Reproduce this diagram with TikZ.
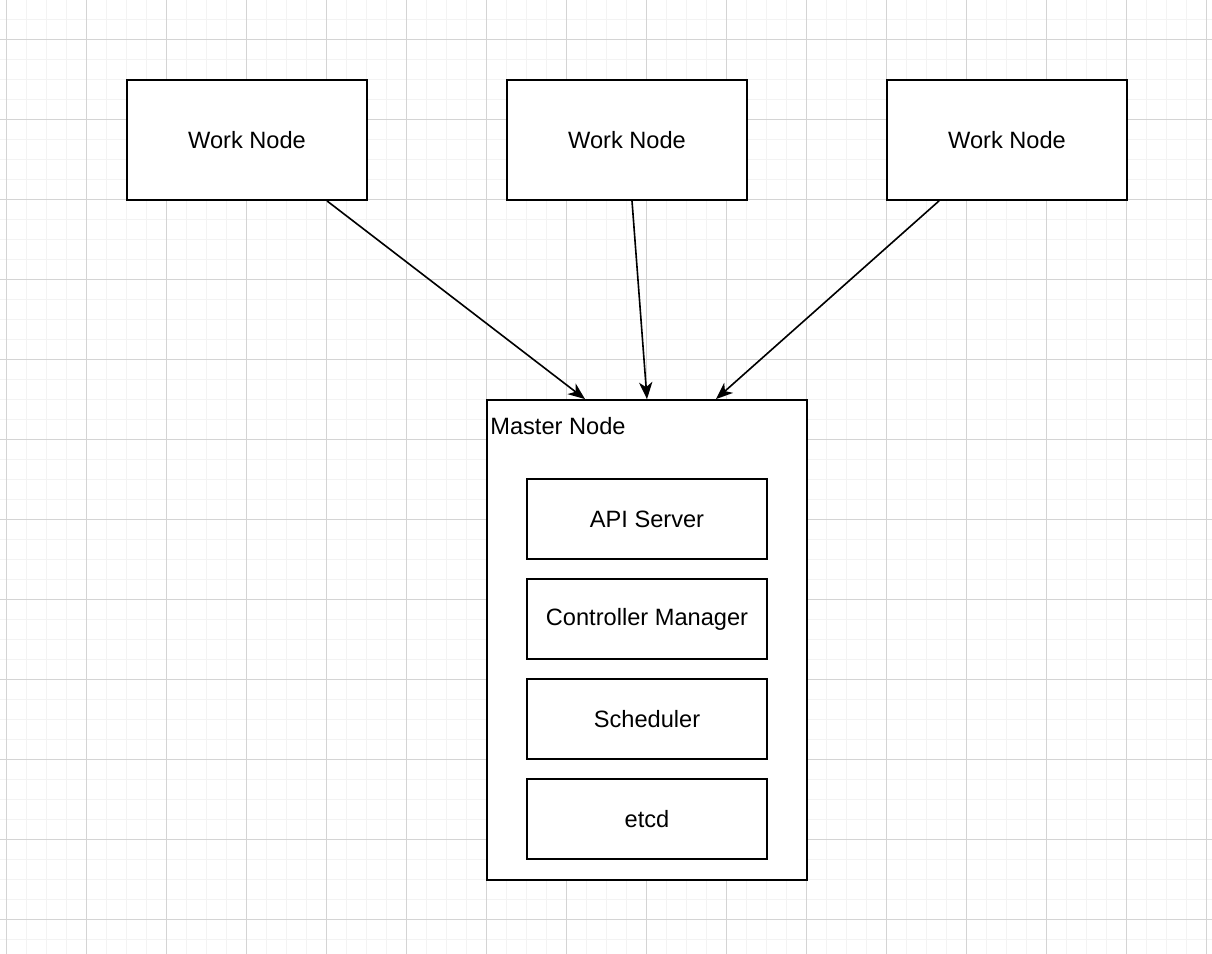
\documentclass[tikz,border=0pt]{standalone}
\usepackage{fontspec}
\setmainfont{Liberation Sans}
\usetikzlibrary{arrows.meta,positioning}

\definecolor{gridminor}{HTML}{F3F3F3}
\definecolor{gridmajor}{HTML}{D4D4D4}

\tikzset{
  box/.style={draw, line width=1.3pt, fill=white, minimum width=6cm, minimum height=3cm,
              font=\fontsize{16.8}{20}\selectfont},
  part/.style={box, minimum height=2cm},
  link/.style={-{Stealth[length=12pt, width=9.5pt, inset=3.5pt]}, line width=1.15pt}
}

\begin{document}
\begin{tikzpicture}[node distance=9.5cm, on grid]
  \useasboundingbox (0,0) rectangle (30.3,-23.85);
  % grid
  \foreach \i in {0,...,60} \draw[gridminor, line width=0.7pt] (0.1675+0.5*\i,0) -- (0.1675+0.5*\i,-23.85);
  \foreach \j in {0,...,47} \draw[gridminor, line width=0.7pt] (0,-0.4825-0.5*\j) -- (30.3,-0.4825-0.5*\j);
  \foreach \i in {0,...,15} \draw[gridmajor, line width=0.7pt] (0.1675+2*\i,0) -- (0.1675+2*\i,-23.85);
  \foreach \j in {0,...,11} \draw[gridmajor, line width=0.7pt] (0,-0.9825-2*\j) -- (30.3,-0.9825-2*\j);

  \node[box]  (work1) at (6.175,-3.5) {Work Node};
  \node[box]  (work2) [right=of work1] {Work Node};
  \node[box]  (work3) [right=of work2] {Work Node};
  \node[box, minimum width=8cm, minimum height=12cm] (master) at (16.175,-16) {};
  \node[anchor=north west, inner sep=0pt, font=\fontsize{16.8}{20}\selectfont]
       (mastertitle) at ([xshift=0.1cm,yshift=-0.45cm]master.north west) {Master Node};

  \node[part] (api)        at ([yshift=-3cm]master.north) {API Server};
  \node[part] (controller) [below=2.5cm of api]        {Controller Manager};
  \node[part] (scheduler)  [below=2.5cm of controller] {Scheduler};
  \node[part] (etcd)       [below=2.5cm of scheduler]  {etcd};

  \draw[link] ([xshift=2cm]work1.south)     -- ([xshift=-1.55cm]master.north);
  \draw[link] ([xshift=0.125cm]work2.south) -- (master.north);
  \draw[link] ([xshift=-1.7cm]work3.south)  -- ([xshift=1.725cm]master.north);
\end{tikzpicture}
\end{document}
